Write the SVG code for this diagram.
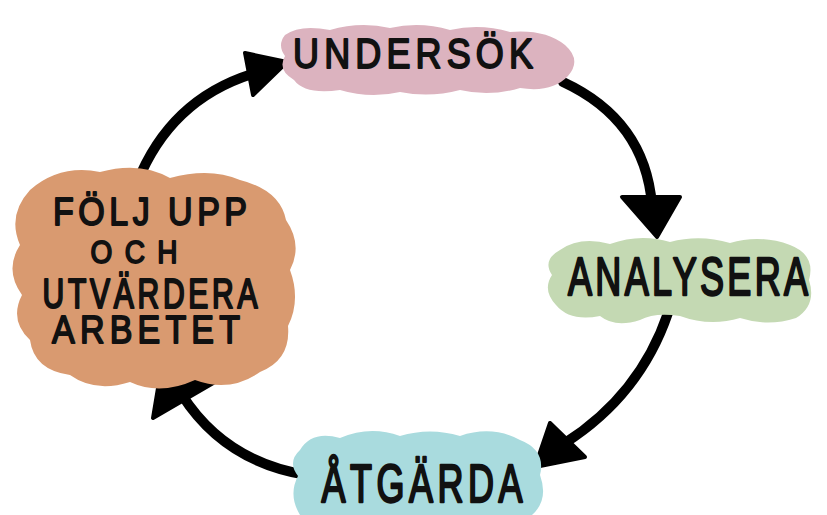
<svg xmlns="http://www.w3.org/2000/svg" width="827" height="515" viewBox="0 0 827 515">
<style>
.lbl{font-family:"Liberation Sans","DejaVu Sans",sans-serif;fill:#111;stroke:#111;stroke-width:1.6;stroke-linejoin:round;text-anchor:middle}
.shaft{fill:none;stroke:#000;stroke-width:10;stroke-linecap:round}
.head{fill:#000;stroke:#000;stroke-width:4;stroke-linejoin:round}
</style>
<rect width="827" height="515" fill="#fff"/>
<g id="connectors">
<path class="shaft" d="M137,183 Q170,100 252,74"/>
<polygon class="head" points="245,53 287,62 253,95"/>
<path class="shaft" d="M563,82 Q645,120 652,205"/>
<polygon class="head" points="622,197 680,197 657,237"/>
<path class="shaft" d="M668,313 Q640,395 565,443"/>
<polygon class="head" points="550,423 585,457 535,467"/>
<path class="shaft" d="M307,475 Q225,462 182,395"/>
<polygon class="head" points="163,358 215,382 153,418"/>
</g>
<g id="undersok">
<path fill="#dcb3bf" d="M285,35 Q300,24 330,30 Q360,21 390,28 Q420,21 450,30 Q480,23 510,32 Q545,29 565,45 Q582,60 568,76 Q552,93 520,88 Q490,97 460,90 Q430,98 400,92 Q370,99 340,90 Q305,95 294,80 Q277,70 285,56 Q277,45 285,35 Z"/>
<text class="lbl" transform="translate(413,68) scale(1,1.2)" font-size="36" textLength="240" lengthAdjust="spacing">UNDERSÖK</text>
</g>
<g id="analysera">
<path fill="#c4d9b3" d="M560,250 Q580,236 610,244 Q640,233 670,242 Q700,234 730,243 Q760,234 790,245 Q816,255 809,280 Q817,305 796,318 Q768,327 740,318 Q710,327 680,316 Q655,312 640,320 Q615,328 600,316 Q570,322 556,305 Q542,290 552,275 Q542,260 560,250 Z"/>
<text class="lbl" transform="translate(688,295) scale(1,1.47)" font-size="36" textLength="240" lengthAdjust="spacing">ANALYSERA</text>
</g>
<g id="atgarda">
<path fill="#a9dbde" d="M300,450 Q312,430 340,438 Q370,425 400,436 Q430,427 460,436 Q492,425 520,440 Q546,450 540,475 Q549,500 532,515 L300,515 Q288,495 298,476 Q287,462 300,450 Z"/>
<text class="lbl" transform="translate(422,502) scale(1,1.5)" font-size="36" textLength="201" lengthAdjust="spacing">ÅTGÄRDA</text>
</g>
<g id="folj-upp">
<path fill="#d99a70" d="M30,190 Q60,164 100,172 Q140,161 170,178 Q210,167 240,180 Q280,190 286,220 Q303,245 290,270 Q301,300 288,326 Q291,360 260,372 Q230,393 195,380 Q160,396 130,382 Q95,393 70,375 Q34,370 30,340 Q9,320 22,295 Q4,270 20,245 Q7,215 30,190 Z"/>
<text class="lbl" transform="translate(150,225) scale(1,1.15)" font-size="34" textLength="194" lengthAdjust="spacing">FÖLJ UPP</text>
<text class="lbl" transform="translate(134,263) scale(1,1.15)" font-size="28" textLength="87" lengthAdjust="spacing">OCH</text>
<text class="lbl" transform="translate(150,308) scale(1,1.4)" font-size="30" textLength="215" lengthAdjust="spacing">UTVÄRDERA</text>
<text class="lbl" transform="translate(146,343) scale(1,1.15)" font-size="34" textLength="188" lengthAdjust="spacing">ARBETET</text>
</g>
</svg>
